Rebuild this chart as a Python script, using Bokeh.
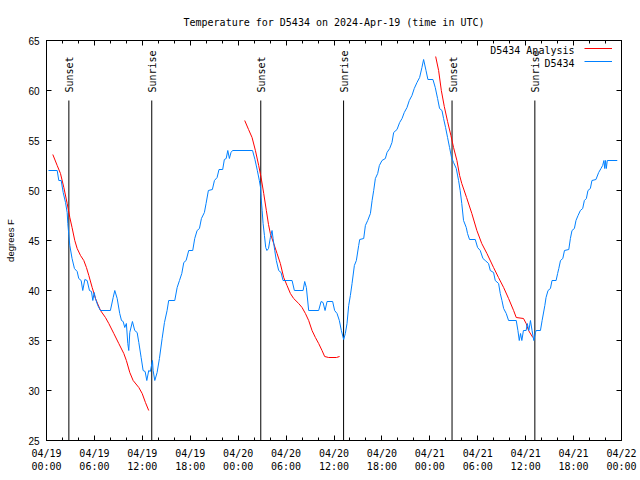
import math
from bokeh.plotting import figure
from bokeh.models import FixedTicker, LinearAxis, Label, Legend, LegendItem, CustomJSTickFormatter
from bokeh.core.properties import value
from bokeh.embed import file_html
from bokeh.resources import INLINE

# ---------------- data (hours since 2024-04-19 00:00 UTC) ----------------
title_text = "Temperature for D5434 on 2024-Apr-19 (time in UTC)"
y_label = "degrees F"

obs_hours = [0.25, 1.34, 1.54, 1.84, 2.09, 2.38, 2.59, 2.67, 2.8, 2.92, 3.2, 3.5, 3.84, 4.04, 4.34,
             4.54, 4.8, 5.09, 5.38, 5.63, 5.8, 5.97, 6.13, 6.42, 6.76, 8.0, 8.35, 8.55, 8.85, 9.17,
             9.39, 9.6, 9.8, 10.0, 10.18, 10.3, 10.43, 10.76, 11.05, 11.35, 11.56, 11.85, 12.1,
             12.35, 12.56, 12.8, 13.0, 13.27, 13.35, 13.56, 13.85, 14.14, 14.48, 14.77, 15.1, 15.3,
             16.06, 16.36, 16.65, 16.94, 17.19, 17.48, 17.81, 18.31, 18.56, 18.86, 19.15, 19.4,
             19.77, 19.98, 20.27, 20.77, 21.03, 21.36, 21.6, 22.06, 22.27, 22.5, 22.7, 22.9, 23.1,
             23.3, 25.8, 26.1, 26.4, 26.65, 26.8, 26.87, 27.0, 27.12, 27.29, 27.45, 27.6, 27.8,
             28.03, 28.24, 28.37, 28.58, 28.78, 29.07, 29.37, 29.62, 30.75, 31.04, 32.13, 32.33,
             32.54, 32.83, 34.08, 34.38, 34.63, 34.88, 35.13, 35.83, 36.08, 36.38, 36.67, 36.92,
             37.21, 37.42, 37.63, 37.84, 38.05, 38.26, 38.55, 38.8, 39.09, 39.22, 39.72, 39.93,
             40.22, 40.56, 40.77, 40.97, 41.18, 41.47, 41.68, 42.01, 42.43, 42.64, 42.97, 43.26,
             43.47, 43.89, 44.22, 44.52, 44.8, 45.14, 45.43, 45.76, 46.05, 46.39, 46.72, 47.01,
             47.22, 47.52, 47.76, 48.39, 48.68, 48.97, 49.22, 49.52, 49.72, 49.97, 50.22, 50.47,
             50.72, 50.97, 51.31, 51.6, 51.8, 52.0, 52.22, 52.56, 52.72, 52.97, 53.69, 53.98,
             54.31, 54.65, 54.94, 55.35, 55.57, 55.98, 56.19, 56.61, 56.82, 57.03, 57.24, 57.57,
             57.86, 58.82, 59.03, 59.2, 59.36, 59.52, 59.72, 60.06, 60.2, 60.4, 60.6, 60.8, 61.02,
             61.23, 61.31, 61.85, 62.06, 62.4, 62.55, 62.8, 63.1, 63.3, 63.81, 64.0, 64.15, 64.36,
             64.65, 64.86, 65.4, 65.6, 65.8, 66.1, 66.3, 66.56, 66.85, 67.14, 67.35, 67.6, 67.8,
             68.1, 68.3, 68.8, 69.14, 69.43, 69.64, 69.8, 69.9, 70.0, 70.1, 70.22, 71.47]
obs_temps = [52, 52, 51, 51, 49.8, 48.8, 47.8, 46.7, 45.5, 44.5, 43.2, 42.2, 41.9, 41.2, 41,
             40, 41.1, 41, 40, 39.9, 39, 39.8, 39.2, 38.5, 38, 38, 39.3, 40, 39.2, 37.7,
             37, 36.9, 36.3, 36.7, 34.7, 34, 35.8, 36.9, 36, 35.8, 34.8, 33.3, 32,
             31.9, 31, 32, 31.9, 33, 32, 31, 31.8, 33.2, 35.2, 36.8, 38, 39,
             39, 40.3, 41, 41.7, 42.8, 43, 44, 44, 45.2, 46, 46.2, 47.2,
             47.8, 48.7, 50, 50.1, 51, 51.3, 52.1, 52.1, 53.1, 53.2, 54, 53.2, 53.8,
             54, 54, 53.1, 52, 51, 50.3, 49.3, 48, 46.7, 45.5, 44.3, 44, 44.2,
             45.3, 46, 45.2, 44, 43, 42, 41.8, 41, 41, 40, 40, 40.9,
             40.3, 38, 38, 38.9, 38.8, 38, 38.9, 38.9, 38, 37.7, 37, 36,
             35.1, 35.7, 36.7, 38.5, 39.5, 40.7, 42.5, 43, 44.5, 45.1, 45.2, 46.5,
             47, 47.7, 49, 50, 51.2, 51.7, 52.5, 53, 53.2, 53.8, 54.2, 54.8,
             55.8, 56.1, 56.8, 57.2, 57.8, 58.3, 59, 59.5, 60.2, 60.8, 61.3, 62.3,
             63.1, 62, 61.1, 61.1, 60.3, 59.2, 58.2, 58, 57.2, 56.3, 55.3, 54.3,
             53.3, 52.8, 52.2, 51, 50, 48.7, 47, 46.3, 45.7, 45.1, 45.1, 44.3,
             44, 43.2, 43, 42.7, 42, 41.8, 41, 40.7, 39.7, 39, 38.2, 37.7,
             37, 37, 36, 35, 35.7, 35, 36, 36, 36.7, 36, 37, 36, 35,
             35.8, 36, 36, 37, 38.5, 39.3, 40, 40.2, 41, 41, 41.7, 42.2, 43,
             43.2, 44, 44.1, 45.2, 46, 46.2, 47, 47.5, 48, 48.2, 49, 49.2, 50,
             50.2, 51, 51.1, 51.8, 52.2, 52.5, 53, 52.2, 53, 52.2, 53, 53]

ana1_hours = [0.79, 1.34, 1.75, 2.17, 2.59, 2.92, 3.2, 3.54, 3.84, 4.26, 4.67, 5.0, 5.3, 5.72,
              6.13, 6.76, 7.38, 7.8, 8.43, 9.05, 9.68, 10.0, 10.43, 10.85, 11.56, 11.98, 12.39, 12.8]
ana1_temps = [53.6, 52.5, 51.7, 50.3, 48.7, 47.3, 46.3, 45, 44.2, 43.5, 43, 42.3, 41.5, 40.3,
              39.2, 38, 37.3, 36.7, 35.7, 34.7, 33.7, 33, 31.8, 31, 30.3, 29.7, 28.8, 28]
ana2_hours = [24.82, 25.3, 25.74, 26.16, 26.57, 26.87, 27.2, 27.53, 27.8, 28.03, 28.45, 28.87,
              29.28, 29.7, 30.12, 30.54, 30.95, 31.58, 32.0, 32.42, 32.83, 33.25, 33.67, 34.08,
              34.5, 34.83, 35.33, 36.3, 36.7]
ana2_temps = [57, 56.1, 55.3, 54, 52.5, 51.3, 49.7, 48, 46.6, 45.7, 44.7, 43.7,
              42.7, 41.3, 40.5, 39.7, 39.2, 38.7, 38.3, 37.7, 37, 36, 35.3, 34.7,
              34, 33.4, 33.3, 33.3, 33.4]
ana3_hours = [48.73, 49.1, 49.44, 49.81, 50.22, 50.64, 50.97, 51.39, 51.73, 52.0, 52.6, 53.26,
              53.89, 54.5, 55.15, 55.98, 56.6, 57.24, 57.86, 58.49, 58.82, 59.73, 60.06, 60.36, 60.9]
ana3_temps = [63.4, 62, 60, 58.4, 56.9, 55.5, 54.3, 53, 51.5, 50.7, 49.3, 47.7,
              46, 44.7, 43.7, 42.3, 41.3, 40.3, 39.2, 38, 37.3, 37.2, 36.7, 36, 35.3]

sunset_hours = [2.8, 26.83, 50.78]
sunrise_hours = [13.18, 37.2, 61.15]

x_ticks = [0, 6, 12, 18, 24, 30, 36, 42, 48, 54, 60, 66, 72]
x_tick_labels = ["04/19\n00:00", "04/19\n06:00", "04/19\n12:00", "04/19\n18:00",
                 "04/20\n00:00", "04/20\n06:00", "04/20\n12:00", "04/20\n18:00",
                 "04/21\n00:00", "04/21\n06:00", "04/21\n12:00", "04/21\n18:00",
                 "04/22\n00:00"]
x_minor = list(range(0, 73, 2))
y_ticks = [25, 30, 35, 40, 45, 50, 55, 60, 65]

series_names = ["D5434 Analysis", "D5434"]
RED = "#ff0000"
BLUE = "#0080ff"
MONO = "DejaVu Sans Mono"
SANS = "Liberation Sans"

# analysis series joined with gaps
nan = float("nan")
ana_hours = ana1_hours + [nan] + ana2_hours + [nan] + ana3_hours
ana_temps = ana1_temps + [nan] + ana2_temps + [nan] + ana3_temps

p = figure(width=640, height=480, x_range=(0, 72), y_range=(25, 65),
           output_backend="svg", toolbar_location=None,
           min_border_left=46, min_border_right=19, min_border_top=40, min_border_bottom=40,
           title=title_text)
p.background_fill_color = "white"
p.border_fill_color = "white"
p.outline_line_color = "black"
p.outline_line_width = 1
p.xgrid.visible = False
p.ygrid.visible = False

p.title.align = "center"
p.title.text_font = MONO
p.title.text_font_size = "10px"
p.title.text_font_style = "normal"
p.title.text_color = "black"
p.title.standoff = 26

xt = FixedTicker(ticks=x_ticks, minor_ticks=x_minor)
yt = FixedTicker(ticks=y_ticks, minor_ticks=[])

def style_axis(ax, ticker):
    ax.ticker = ticker
    ax.axis_line_color = "black"
    ax.major_tick_line_color = "black"
    ax.minor_tick_line_color = "black"
    ax.major_tick_in = 5
    ax.major_tick_out = 0
    ax.minor_tick_in = 3
    ax.minor_tick_out = 0

xa = p.xaxis[0]
style_axis(xa, xt)
xa.major_label_overrides = {t: l for t, l in zip(x_ticks, x_tick_labels)}
xa.major_label_text_font = MONO
xa.major_label_text_font_size = "10px"
xa.major_label_text_color = "black"
xa.major_label_standoff = 7

ya = p.yaxis[0]
style_axis(ya, yt)
ya.major_label_text_font = SANS
ya.major_label_text_font_size = "10px"
ya.major_label_text_color = "black"
ya.major_label_standoff = 7
ya.axis_label = y_label
ya.axis_label_text_font = SANS
ya.axis_label_text_font_size = "9.5px"
ya.axis_label_text_font_style = "normal"
ya.axis_label_text_color = "black"
ya.axis_label_standoff = 9

blank = CustomJSTickFormatter(code="return ''")

top = LinearAxis(formatter=blank)
style_axis(top, xt)
top.major_label_standoff = 0
p.add_layout(top, "above")

right = LinearAxis(formatter=blank)
style_axis(right, yt)
right.major_label_standoff = 0
p.add_layout(right, "right")

# sunrise / sunset markers
p.segment(x0=sunset_hours, y0=[25] * 3, x1=sunset_hours, y1=[59] * 3, line_color="black", line_width=1)
p.segment(x0=sunrise_hours, y0=[25] * 3, x1=sunrise_hours, y1=[59] * 3, line_color="black", line_width=1)
p.text(x=sunset_hours, y=[59.8] * 3, text=["Sunset"] * 3, angle=math.pi / 2,
       text_align="left", text_baseline="middle", x_offset=1,
       text_font=value(MONO), text_font_size=value("10px"), text_color="black")
p.text(x=sunrise_hours, y=[59.8] * 3, text=["Sunrise"] * 3, angle=math.pi / 2,
       text_align="left", text_baseline="middle", x_offset=1,
       text_font=value(MONO), text_font_size=value("10px"), text_color="black")

r_ana = p.line(ana_hours, ana_temps, line_color=RED, line_width=1)
r_obs = p.line(obs_hours, obs_temps, line_color=BLUE, line_width=1)

legend = Legend(items=[LegendItem(label=value(" "), renderers=[r_ana]),
                       LegendItem(label=value(" "), renderers=[r_obs])],
                location="top_right", glyph_width=28, glyph_height=12, label_height=12,
                label_width=0, label_standoff=7, label_text_font_size="1px", spacing=1,
                padding=2, margin=2, border_line_color=None, background_fill_alpha=0)
p.add_layout(legend, "center")

for name, ys in zip(series_names, [390, 377]):
    p.add_layout(Label(x=528, y=ys, x_units="screen", y_units="screen", text=name,
                       text_align="right", text_baseline="middle", text_font=MONO,
                       text_font_size="10px", text_color="black"))

open("out.html", "w").write(file_html(p, INLINE))
